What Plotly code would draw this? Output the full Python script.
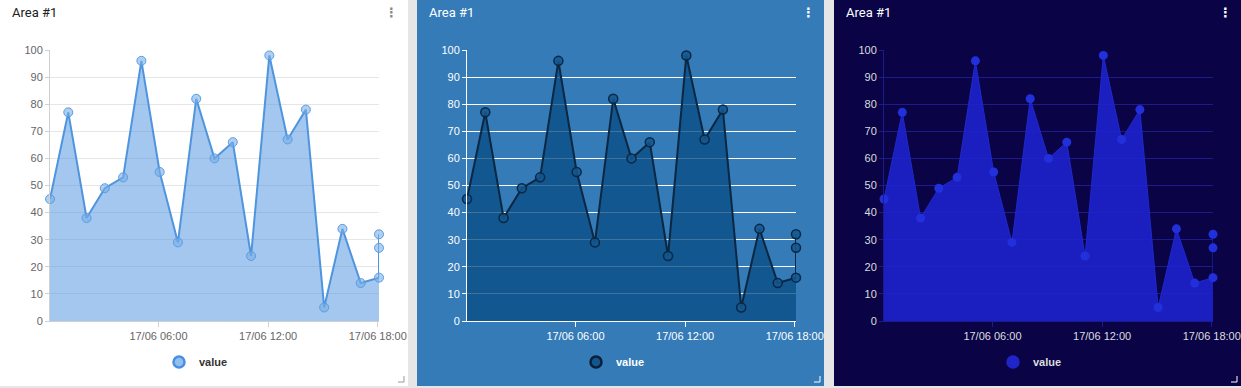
import plotly.graph_objects as go

W, H = 1241, 388

# ---- data ----
times = [
    "2023-06-17 00:04", "2023-06-17 01:04", "2023-06-17 02:04", "2023-06-17 03:04",
    "2023-06-17 04:04", "2023-06-17 05:04", "2023-06-17 06:04", "2023-06-17 07:04",
    "2023-06-17 08:04", "2023-06-17 09:04", "2023-06-17 10:04", "2023-06-17 11:04",
    "2023-06-17 12:04", "2023-06-17 13:04", "2023-06-17 14:04", "2023-06-17 15:04",
    "2023-06-17 16:04", "2023-06-17 17:04", "2023-06-17 18:04", "2023-06-17 18:04",
    "2023-06-17 18:04",
]
values = [45, 77, 38, 49, 53, 96, 55, 29, 82, 60, 66, 24, 98, 67, 78, 5, 34, 14, 16, 27, 32]
tick_vals = ["2023-06-17 06:00", "2023-06-17 12:00", "2023-06-17 18:00"]
tick_text = ["17/06 06:00", "17/06 12:00", "17/06 18:00"]
series_name = "value"
title_text = "Area #1"

# ---- panel styles ----
panels = [
    dict(left=0, right=408, bg="#ffffff", title="#212121", tick="#666666",
         grid="#e6e6e6", axis="#d0d0d0", fill="rgba(74,144,226,0.5)", line="#4f95de", lw=2,
         mfill="rgba(120,175,232,0.6)", mline="#5a9de0", mlw=1,
         lgfill="#8fc0ef", lgline="#4a90e2", lgtext="#333333", corner="#999999"),
    dict(left=417, right=824, bg="#347bb8", title="#ffffff", tick="#ffffff",
         grid="#ffffff", axis="#ffffff", fill="rgba(9,77,132,0.78)", line="#0b2742", lw=2,
         mfill="rgba(19,87,143,0.85)", mline="#0b2742", mlw=1.5,
         lgfill="#13568f", lgline="#0a1f36", lgtext="#ffffff", corner="#ffffff"),
    dict(left=834, right=1241, bg="#0a0446", title="#ffffff", tick="#dddddd",
         grid="#1c1a8c", axis="#1c1a8c", fill="rgba(30,34,205,0.9)", line="#1f28cc", lw=1,
         mfill="#2230dc", mline="#2230dc", mlw=0,
         lgfill="#1f25c8", lgline="#1f25c8", lgtext="#dddddd", corner="#ffffff"),
]

PLOT_L, PLOT_R = 50, 379   # relative to panel left
PLOT_T, PLOT_B = 50, 321


def px(x):
    return x / W


def py(y):
    return 1 - y / H


fig = go.Figure()
shapes = []
annotations = []
layout_axes = {}

for i, p in enumerate(panels):
    n = "" if i == 0 else str(i + 1)
    xa, ya = "x" + n, "y" + n
    off = p["left"]

    # panel background
    shapes.append(dict(type="rect", xref="paper", yref="paper", layer="below",
                       x0=px(p["left"]), x1=px(p["right"]), y0=py(386), y1=py(0),
                       fillcolor=p["bg"], line=dict(width=0)))
    # resize corner
    cx, cy = p["right"] - 4, 382
    shapes.append(dict(type="path", xref="paper", yref="paper", layer="above",
                       path=f"M {px(cx)} {py(cy-6)} L {px(cx)} {py(cy)} L {px(cx-6)} {py(cy)}",
                       line=dict(color=p["corner"], width=1)))

    fig.add_trace(go.Scatter(
        x=times, y=values, xaxis=xa, yaxis=ya, mode="lines+markers", fill="tozeroy",
        fillcolor=p["fill"], line=dict(color=p["line"], width=p["lw"]),
        marker=dict(size=9, color=p["mfill"], line=dict(color=p["mline"], width=p["mlw"])),
        name=series_name, showlegend=False, cliponaxis=False, hoverinfo="x+y"))
    # legend entry
    lg = "legend" + n
    fig.add_trace(go.Scatter(
        x=[None], y=[None], xaxis=xa, yaxis=ya, mode="markers", name=series_name,
        marker=dict(size=11, color=p["lgfill"], line=dict(color=p["lgline"], width=2.5)),
        legend=lg, showlegend=True))
    layout_axes[lg] = dict(
        x=px(off + 159), xanchor="left", y=py(362), yanchor="middle",
        orientation="h", bgcolor="rgba(0,0,0,0)",
        font=dict(family="Liberation Sans, Arial", size=11, color=p["lgtext"], weight="bold"),
        itemclick=False, itemdoubleclick=False)

    layout_axes["xaxis" + n] = dict(
        domain=[px(off + PLOT_L), px(off + PLOT_R)], anchor=ya,
        type="date", range=[times[0], times[-1]],
        tickvals=tick_vals, ticktext=tick_text, ticks="outside", ticklen=5,
        tickcolor=p["axis"], showgrid=False, showline=True, linecolor=p["axis"],
        linewidth=1, zeroline=False, automargin=False,
        tickfont=dict(family="Liberation Sans, Arial", size=11, color=p["tick"]),
        fixedrange=True)
    layout_axes["yaxis" + n] = dict(
        domain=[py(PLOT_B), py(PLOT_T)], anchor=xa, range=[0, 100], dtick=10,
        ticks="outside", ticklen=4, tickcolor=p["axis"], showgrid=True,
        gridcolor=p["grid"], gridwidth=1, showline=True, linecolor=p["axis"],
        zeroline=False, automargin=False,
        tickfont=dict(family="Liberation Sans, Arial", size=11, color=p["tick"]),
        fixedrange=True)

    annotations.append(dict(text=title_text, xref="paper", yref="paper",
                            x=px(off + 10), y=py(13), xanchor="left", yanchor="middle",
                            showarrow=False,
                            font=dict(family="Roboto, Liberation Sans", size=13, color=p["title"])))
    annotations.append(dict(text="<b>⋮</b>", xref="paper", yref="paper",
                            x=px(off + 391), y=py(13), xanchor="center", yanchor="middle",
                            showarrow=False,
                            font=dict(family="DejaVu Sans", size=13,
                                      color="#888888" if i == 0 else "#ffffff")))

fig.update_layout(
    width=W, height=H, margin=dict(l=0, r=0, t=0, b=0, autoexpand=False),
    paper_bgcolor="#e6e6e6", plot_bgcolor="rgba(0,0,0,0)",
    shapes=shapes, annotations=annotations, hovermode="closest",
    **layout_axes,
)

post = (
    "var st=document.createElement('style');"
    "st.textContent='html,body{margin:0!important;padding:0!important;overflow:hidden!important;}';"
    "document.head.appendChild(st);"
)

fig.write_html("out.html", config=dict(displayModeBar=False), post_script=post)
